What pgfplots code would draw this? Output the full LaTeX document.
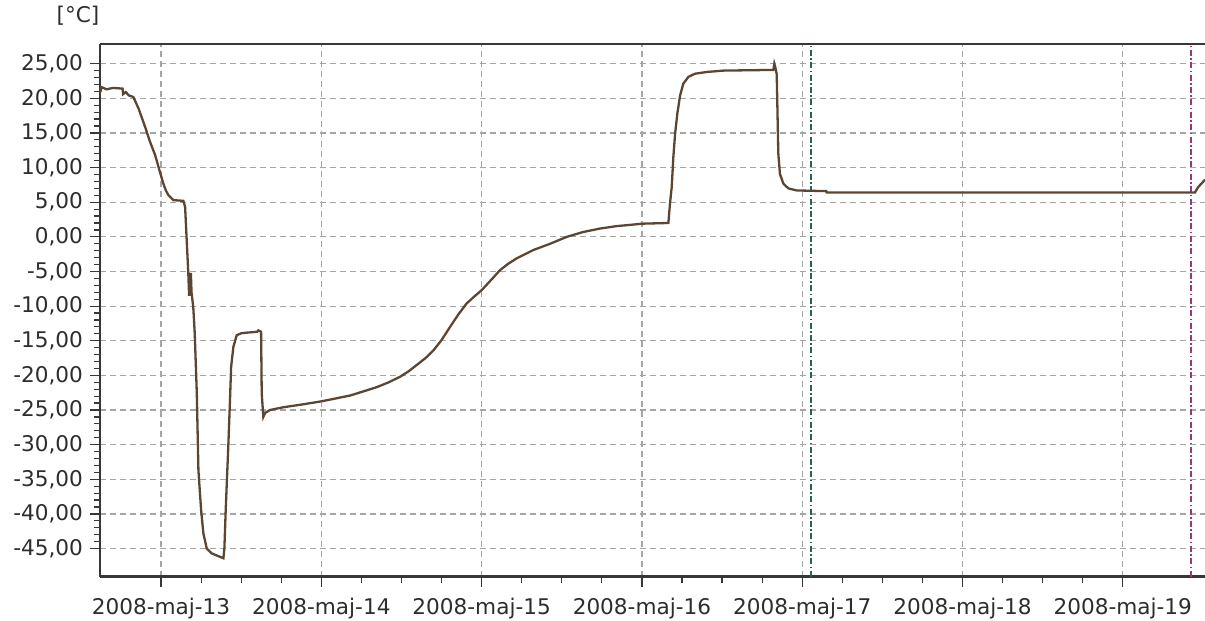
\documentclass[border=0pt]{standalone}
\usepackage{pgfplots}
\pgfplotsset{compat=1.18}
\usepackage{fontspec}
\setmainfont{DejaVu Sans}

\definecolor{templine}{RGB}{92,70,50}
\definecolor{axisgray}{RGB}{55,55,55}
\definecolor{gridgray}{RGB}{165,165,165}
\definecolor{textgray}{RGB}{45,45,45}
\definecolor{markgreen}{RGB}{40,100,70}
\definecolor{markpurple}{RGB}{150,55,130}

\begin{document}
\begin{tikzpicture}
\useasboundingbox (-50pt,-22pt) rectangle (552.5pt,288.3pt);
\begin{axis}[
  at={(0,0)}, anchor=south west,
  scale only axis,
  width=552.5pt, height=266.5pt,
  xmin=12.619, xmax=19.513,
  ymin=-49.05, ymax=27.9,
  axis lines*=left,
  axis line style={-, line width=1.3pt, color=axisgray},
  xtick={13,14,15,16,17,18,19},
  xticklabels={2008-maj-13,2008-maj-14,2008-maj-15,2008-maj-16,2008-maj-17,2008-maj-18,2008-maj-19},
  minor x tick num=3,
  ytick={-45,-40,...,25},
  minor y tick num=4,
  tick align=outside,
  major tick length=5pt, minor tick length=3pt,
  tick style={color=axisgray, line width=0.6pt},
  grid=major,
  major grid style={gridgray, line width=0.6pt, dash pattern=on 3pt off 2pt},
  tick label style={font=\fontsize{10.8}{12}\selectfont, color=textgray},
  yticklabel style={/pgf/number format/.cd, fixed, fixed zerofill, precision=2, use comma, assume math mode=true},
  xticklabel style={yshift=-2pt},
  clip=true,
]
% vertical markers
\addplot[markgreen, line width=0.8pt, dash pattern=on 3pt off 1.2pt on 0.8pt off 1.2pt] coordinates {(17.055,-49.05) (17.055,27.9)};
\addplot[markpurple, line width=0.8pt, dash pattern=on 3pt off 1.2pt on 0.8pt off 1.2pt] coordinates {(19.424,-49.05) (19.424,27.9)};

\addplot[templine, line width=1.15pt] coordinates {
(12.619,21.8) (12.623,21.1) (12.630,21.6) (12.660,21.3) (12.700,21.5) (12.760,21.4)
(12.763,20.6) (12.780,20.9) (12.800,20.4) (12.827,20.2) (12.860,18.5) (12.900,15.9)
(12.930,13.8) (12.963,11.8) (12.990,9.6) (13.014,7.7) (13.030,6.7) (13.046,6.0)
(13.077,5.3) (13.139,5.2) (13.150,4.3) (13.160,-0.5) (13.170,-5.3) (13.175,-8.5)
(13.180,-6.5) (13.186,-5.2) (13.190,-8.0) (13.201,-10.2) (13.210,-13.9) (13.223,-22.6)
(13.233,-33.7) (13.250,-39.5) (13.264,-42.8) (13.285,-45.0) (13.316,-45.7) (13.389,-46.4)
(13.395,-45.0) (13.404,-39.0) (13.420,-29.9) (13.430,-23.6) (13.437,-18.8) (13.451,-15.9)
(13.472,-14.2) (13.503,-13.9) (13.600,-13.7) (13.607,-13.5) (13.624,-13.7) (13.628,-22.6)
(13.638,-26.0) (13.650,-25.4) (13.680,-25.0) (13.763,-24.6) (13.880,-24.2) (14.000,-23.75)
(14.181,-22.9) (14.346,-21.7) (14.420,-21.0) (14.491,-20.2) (14.545,-19.4) (14.595,-18.5)
(14.650,-17.5) (14.699,-16.4) (14.750,-14.9) (14.803,-13.0) (14.855,-11.2) (14.907,-9.6)
(14.955,-8.6) (15.000,-7.7) (15.060,-6.2) (15.115,-4.8) (15.165,-3.9) (15.219,-3.1)
(15.323,-1.9) (15.427,-1.0) (15.531,0.0) (15.634,0.7) (15.739,1.2) (15.843,1.55)
(15.936,1.75) (16.000,1.9)
(16.165,2.0) (16.175,4.8) (16.186,7.2) (16.196,11.5) (16.207,14.9) (16.221,17.8)
(16.238,20.4) (16.258,22.1) (16.290,23.1) (16.331,23.55) (16.404,23.8) (16.508,24.0)
(16.820,24.1) (16.826,25.0) (16.832,24.5) (16.841,23.5) (16.851,12.0) (16.861,9.1)
(16.882,7.7) (16.913,7.0) (16.966,6.7) (17.150,6.6) (17.153,6.4) (19.450,6.4)
(19.471,7.2) (19.513,8.25)
};

\draw[axisgray, line width=1.3pt] (rel axis cs:0,1) -- (rel axis cs:1,1);
\end{axis}
\node[color=textgray, font=\fontsize{10.8}{12}\selectfont] at (-11pt,280.5pt) {[°C]};
\end{tikzpicture}
\end{document}
